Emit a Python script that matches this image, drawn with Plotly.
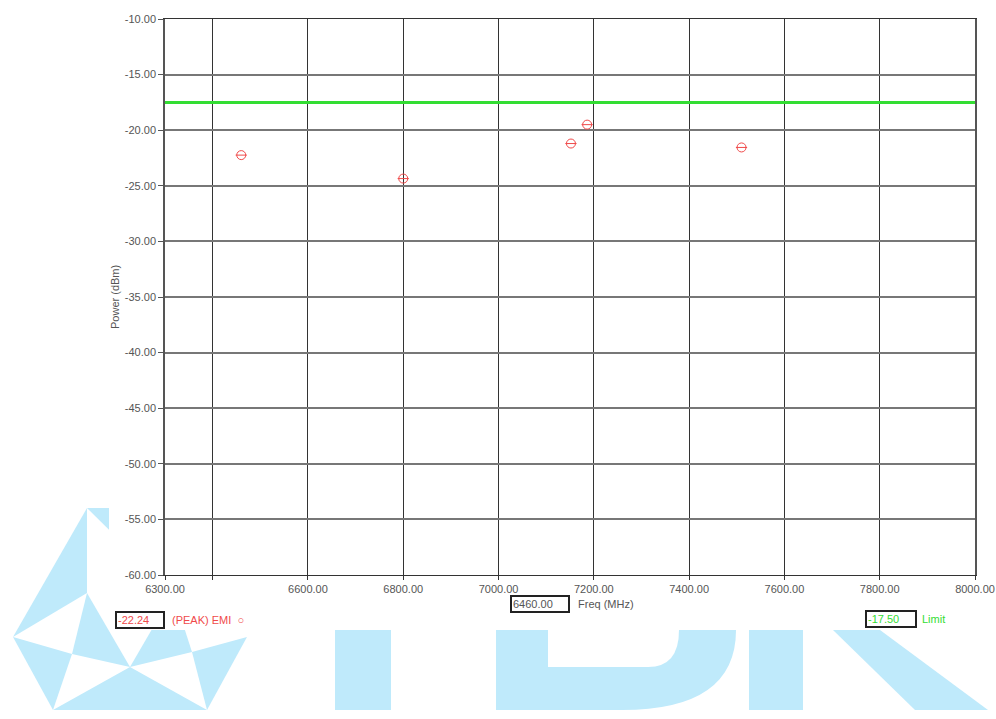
import plotly.graph_objects as go

# ---- data ----
freq_mhz = [6460.0, 6800.0, 7152.0, 7186.0, 7510.0]
emi_power = [-22.24, -24.35, -21.20, -19.50, -21.55]
limit_value = -17.50
x_range = [6300, 8000]
y_range = [-60, -10]
x_tickvals = [6300, 6400, 6600, 6800, 7000, 7200, 7400, 7600, 7800, 8000]
x_ticktext = ["6300.00", "", "6600.00", "6800.00", "7000.00", "7200.00",
              "7400.00", "7600.00", "7800.00", "8000.00"]
y_tickvals = [-60, -55, -50, -45, -40, -35, -30, -25, -20, -15, -10]
y_ticktext = ["%.2f" % v for v in y_tickvals]

W, H = 996, 719
# plot area in page pixels: x 165..975, y 19..575
ML, MT = 165, 19
MR, MB = W - 975, H - 575
PW, PH = W - ML - MR, H - MT - MB

def px(x):
    return (x - ML) / PW

def py(y):
    return (H - MB - y) / PH

RED = "#f04a4a"
GREEN = "#33dd33"
WM = "#bfeafb"

fig = go.Figure()

fig.add_trace(go.Scatter(
    x=x_range, y=[limit_value, limit_value], mode="lines",
    line=dict(color=GREEN, width=3), showlegend=False, hoverinfo="skip"))
fig.add_trace(go.Scatter(
    x=freq_mhz, y=emi_power, mode="markers",
    marker=dict(symbol="circle-open", size=9, color=RED, line=dict(width=1, color=RED)),
    showlegend=False))
fig.add_trace(go.Scatter(
    x=freq_mhz, y=emi_power, mode="markers",
    marker=dict(symbol="line-ew-open", size=8, color=RED, line=dict(width=1, color=RED)),
    showlegend=False, hoverinfo="skip"))

# ---- watermark (decoration) ----
def pp(a, b):
    return "%.5f,%.5f" % (px(a), py(b))

def poly(pts, color=WM):
    d = "M " + " L ".join(pp(a, b) for a, b in pts) + " Z"
    return dict(type="path", xref="paper", yref="paper", path=d,
                fillcolor=color, line=dict(width=0), layer="below")

T, L, P = (87, 508), (13, 637), (87, 593)
Q, C, BL, BR = (72, 654), (130, 667), (53, 710), (207, 710)
S, R, V, TR = (192, 652), (247, 637), (173, 593), (173, 508)
shapes = [
    poly([T, L, P]), poly([P, Q, C]), poly([L, Q, BL]), poly([C, BL, BR]),
    poly([S, R, BR]), poly([C, V, S]), poly([T, TR, V]),
    poly([(335, 630), (391, 630), (391, 710), (335, 710)]),
    poly([(749, 630), (803, 630), (803, 710), (749, 710)]),
    poly([(833, 630), (880, 630), (988, 710), (915, 710)]),
]
d_outer = "M %s L %s L %s Q %s %s Z" % (pp(496, 630), pp(496, 710), pp(622, 710), pp(736, 710), pp(736, 630))
d_inner = "M %s L %s L %s Q %s %s Z" % (pp(548, 630), pp(548, 667), pp(648, 667), pp(679, 667), pp(679, 630))
shapes.append(dict(type="path", xref="paper", yref="paper", path=d_outer,
                   fillcolor=WM, line=dict(width=0), layer="below"))
shapes.append(dict(type="path", xref="paper", yref="paper", path=d_inner,
                   fillcolor="white", line=dict(width=0), layer="below"))
shapes.append(dict(type="rect", xref="paper", yref="paper",
                   x0=px(109), x1=px(W), y0=py(630), y1=py(0),
                   fillcolor="white", line=dict(width=0), layer="below"))

fig.update_layout(shapes=shapes)

FONT = "Liberation Sans, Arial, sans-serif"
ann = []
ann.append(dict(x=px(115), y=py(297), xref="paper", yref="paper", text="Power (dBm)",
                xanchor="center", yanchor="middle",
                textangle=-90, showarrow=False, font=dict(family=FONT, size=11, color="#555")))
ann.append(dict(x=px(510), y=py(604), xref="paper", yref="paper", xanchor="left", yanchor="middle",
                text="%.2f" % freq_mhz[0], showarrow=False, width=54, align="left",
                bordercolor="#222", borderwidth=2, borderpad=1, bgcolor="white",
                font=dict(family=FONT, size=11, color="#555")))
ann.append(dict(x=px(576), y=py(604), xref="paper", yref="paper", xanchor="left", yanchor="middle",
                text="Freq (MHz)", showarrow=False, font=dict(family=FONT, size=11, color="#555")))
ann.append(dict(x=px(115), y=py(620), xref="paper", yref="paper", xanchor="left", yanchor="middle",
                text="%.2f" % emi_power[0], showarrow=False, width=44, align="left",
                bordercolor="#222", borderwidth=2, borderpad=1, bgcolor="white",
                font=dict(family=FONT, size=11, color=RED)))
ann.append(dict(x=px(170), y=py(620), xref="paper", yref="paper", xanchor="left", yanchor="middle",
                text="(PEAK) EMI  \u25CB", showarrow=False, font=dict(family=FONT, size=11, color=RED)))
ann.append(dict(x=px(865), y=py(619), xref="paper", yref="paper", xanchor="left", yanchor="middle",
                text="%.2f" % limit_value, showarrow=False, width=46, align="left",
                bordercolor="#222", borderwidth=2, borderpad=1, bgcolor="white",
                font=dict(family=FONT, size=11, color=GREEN)))
ann.append(dict(x=px(920), y=py(619), xref="paper", yref="paper", xanchor="left", yanchor="middle",
                text="Limit", showarrow=False, font=dict(family=FONT, size=11, color=GREEN)))

fig.update_layout(
    annotations=ann,
    width=W, height=H,
    margin=dict(l=ML, r=MR, t=MT, b=MB, pad=0, autoexpand=False),
    paper_bgcolor="white", plot_bgcolor="white",
    font=dict(family=FONT, size=11, color="#555"),
    xaxis=dict(range=x_range, tickvals=x_tickvals, ticktext=x_ticktext,
               showgrid=True, gridcolor="#333", gridwidth=1,
               showline=True, linecolor="#333", linewidth=1, mirror=True,
               ticks="outside", ticklen=4, tickcolor="#333", zeroline=False,
               ticklabeloverflow="allow", automargin=False,
               tickfont=dict(family=FONT, size=11, color="#555")),
    yaxis=dict(range=y_range, tickvals=y_tickvals, ticktext=y_ticktext,
               showgrid=True, gridcolor="#777", gridwidth=1.5,
               showline=True, linecolor="#555", linewidth=1.5, mirror=True,
               ticks="outside", ticklen=5, tickcolor="#555", zeroline=False,
               automargin=False,
               tickfont=dict(family=FONT, size=11, color="#555")),
)

fig.write_html(
    "out.html",
    config={"displayModeBar": False},
    post_script="document.documentElement.style.margin='0';"
                "document.body.style.margin='0';"
                "document.body.style.overflow='hidden';",
)
